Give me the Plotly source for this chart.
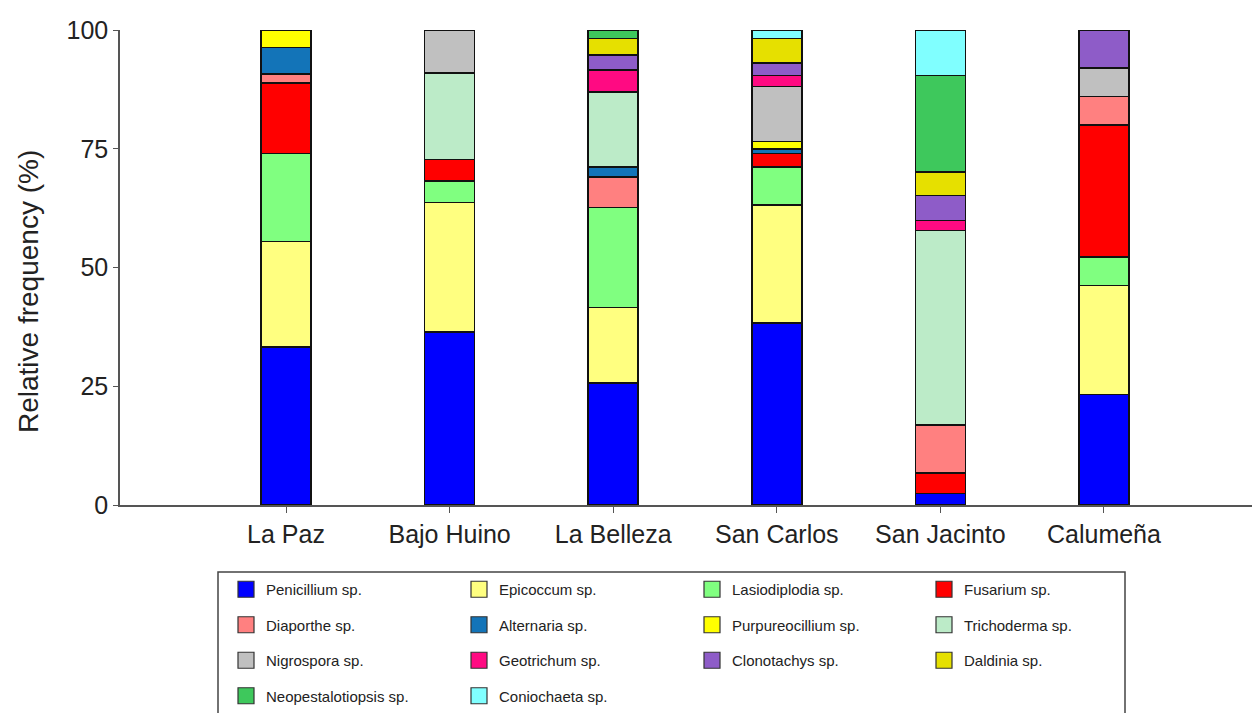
import plotly.graph_objects as go

sites = ["La Paz", "Bajo Huino", "La Belleza", "San Carlos", "San Jacinto", "Calumeña"]

species = [
    "Penicillium sp.", "Epicoccum sp.", "Lasiodiplodia sp.", "Fusarium sp.",
    "Diaporthe sp.", "Alternaria sp.", "Purpureocillium sp.", "Trichoderma sp.",
    "Nigrospora sp.", "Geotrichum sp.", "Clonotachys sp.", "Daldinia sp.",
    "Neopestalotiopsis sp.", "Coniochaeta sp.",
]

penicillium = [33.3, 36.4, 25.7, 38.3, 2.4, 23.3]
epicoccum = [22.2, 27.3, 15.9, 24.8, 0, 22.9]
lasiodiplodia = [18.5, 4.5, 21.0, 8.1, 0, 6.0]
fusarium = [14.8, 4.5, 0, 2.8, 4.4, 27.8]
diaporthe = [1.9, 0, 6.5, 0, 10.1, 6.0]
alternaria = [5.6, 0, 2.1, 1.0, 0, 0]
purpureocillium = [3.7, 0, 0, 1.5, 0, 0]
trichoderma = [0, 18.2, 15.8, 0, 40.9, 0]
nigrospora = [0, 9.1, 0, 11.6, 0, 6.0]
geotrichum = [0, 0, 4.6, 2.3, 2.1, 0]
clonotachys = [0, 0, 3.2, 2.6, 5.3, 8.0]
daldinia = [0, 0, 3.4, 5.2, 4.9, 0]
neopestalotiopsis = [0, 0, 1.8, 0, 20.3, 0]
coniochaeta = [0, 0, 0, 1.8, 9.6, 0]

values = [penicillium, epicoccum, lasiodiplodia, fusarium, diaporthe, alternaria,
          purpureocillium, trichoderma, nigrospora, geotrichum, clonotachys,
          daldinia, neopestalotiopsis, coniochaeta]

colors = ["#0000FF", "#FFFF80", "#80FF80", "#FF0000", "#FF8080", "#1374B8",
          "#FFFF00", "#BCEBC8", "#C0C0C0", "#FF0A82", "#8E5CC8", "#E6E000",
          "#3EC85C", "#80FFFF"]

# legend column assignment (row-major legend with 4 columns)
legend_col = ["legend", "legend2", "legend3", "legend4",
              "legend", "legend2", "legend3", "legend4",
              "legend", "legend2", "legend3", "legend4",
              "legend", "legend2"]

W, H = 1260, 713
L, R, T, B = 112, 8, 22, 216
PW, PH = W - L - R, H - T - B

fig = go.Figure()
for name, vals, col in zip(species, values, colors):
    fig.add_trace(go.Bar(
        x=sites, y=[v if v > 0 else None for v in vals], name=name,
        marker=dict(color=col, line=dict(color="#111111", width=1.6)),
        width=0.305, showlegend=False, cliponaxis=False,
    ))

for i, (name, col) in enumerate(zip(species, colors)):
    fig.add_trace(go.Scatter(
        x=[None], y=[None], mode="markers", name=name,
        marker=dict(symbol="square", size=16, color=col,
                    line=dict(color="#333333", width=1.2)),
        legend=legend_col[i], legendgroup=name, showlegend=True,
    ))

col_x = [218, 451, 684, 916]
leg_common = dict(
    orientation="v", xref="container", yref="container",
    yanchor="top", xanchor="left",
    font=dict(family="Liberation Sans, Arial, sans-serif", size=15, color="#222222"),
    bgcolor="rgba(0,0,0,0)", borderwidth=0,
    traceorder="grouped", tracegroupgap=13,
    itemclick=False, itemdoubleclick=False,
)
legends = {}
for k, key in enumerate(["legend", "legend2", "legend3", "legend4"]):
    legends[key] = dict(leg_common, x=col_x[k] / W, y=1 - 565 / H)

fig.update_layout(
    width=W, height=H,
    margin=dict(l=L, r=R, t=T, b=B, autoexpand=False),
    paper_bgcolor="white", plot_bgcolor="white",
    barmode="stack",
    font=dict(family="Liberation Sans, Arial, sans-serif", color="#222222"),
    xaxis=dict(
        range=[-1.015, 5.954], showgrid=False, zeroline=False,
        showline=True, linecolor="#555555", linewidth=1.5,
        ticks="outside", ticklen=6, tickcolor="#555555", tickwidth=1.2,
        tickfont=dict(size=25, color="#222222"),
    ),
    yaxis=dict(
        range=[0, 100], tickvals=[0, 25, 50, 75, 100],
        showgrid=False, zeroline=False,
        showline=True, linecolor="#555555", linewidth=1.5,
        ticks="outside", ticklen=5, tickcolor="#555555", tickwidth=1.2,
        tickfont=dict(size=25, color="#222222"),
    ),
    **legends,
    annotations=[dict(
        text="Relative frequency (%)", textangle=-90, showarrow=False,
        xref="paper", yref="paper",
        x=(20 - L) / PW, y=(H - B - 284) / PH,
        xanchor="center", yanchor="middle",
        font=dict(size=28, color="#222222"),
    )],
    shapes=[dict(
        type="rect", xref="paper", yref="paper",
        x0=(210 - L) / PW, x1=(1117 - L) / PW,
        y0=(H - B - 730) / PH, y1=(H - B - 564) / PH,
        line=dict(color="#444444", width=1.5), fillcolor="rgba(0,0,0,0)",
    )],
)

fig.write_html("out.html")
